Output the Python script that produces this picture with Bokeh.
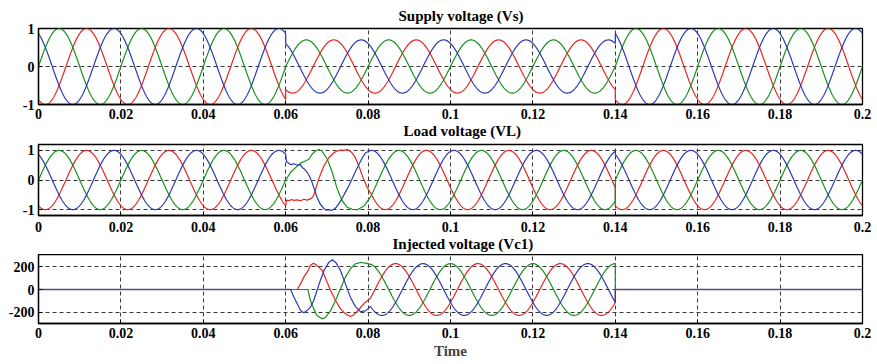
import numpy as np
from bokeh.plotting import figure
from bokeh.layouts import column
from bokeh.models import FixedTicker, Range1d, Title
from bokeh.embed import file_html
from bokeh.resources import INLINE

# ---------------- data ----------------
FREQ_HZ = 50.0
T_END = 0.2
SAG_START = 0.06
SAG_END = 0.14

phase_names = ["red", "green", "blue"]
phase_colors = ["#e8231f", "#16901a", "#2a39b2"]
phase_offset_deg = [-120.0, 0.0, 120.0]

# supply voltage (pu): amplitude per segment
supply_seg_edges = [0.0, 0.06, 0.14, 0.2]
supply_seg_amp = [1.0, 0.7, 1.0]

# load voltage (pu): phase lag while compensated
load_comp_lag_deg = 45.0
load_transient_end = 0.0806
load_tr_t_red = [0.0600, 0.0602, 0.0608, 0.0614, 0.0620, 0.0628, 0.0636, 0.0644, 0.0652, 0.0660,
                 0.0664, 0.0668, 0.0674, 0.0680, 0.0687, 0.0693, 0.0705, 0.0717, 0.0725, 0.0733,
                 0.0741, 0.0749, 0.0755, 0.0761, 0.0768, 0.0774, 0.0780, 0.0786, 0.0792, 0.0798, 0.0806]
load_tr_v_red = [-0.87, -0.68, -0.70, -0.66, -0.69, -0.67, -0.70, -0.65, -0.68, -0.64,
                 -0.60, -0.52, -0.25, 0.03, 0.28, 0.48, 0.76, 0.92, 0.98, 1.01,
                 1.00, 1.03, 0.99, 0.92, 0.78, 0.59, 0.38, 0.14, -0.06, -0.26, -0.44]
load_tr_t_green = [0.0600, 0.0612, 0.0624, 0.0636, 0.0648, 0.0656, 0.0664, 0.0672, 0.0680, 0.0688,
                   0.0701, 0.0713, 0.0725, 0.0737, 0.0749, 0.0762, 0.0775, 0.0790, 0.0806]
load_tr_v_green = [0.0, 0.26, 0.42, 0.57, 0.64, 0.70, 0.87, 0.98, 1.03, 0.98,
                   0.70, 0.26, -0.30, -0.70, -0.92, -0.99, -1.00, -0.88, -0.56]
load_tr_t_blue = [0.0600, 0.0602, 0.0606, 0.0612, 0.0620, 0.0628, 0.0636, 0.0640, 0.0646, 0.0652,
                  0.0658, 0.0664, 0.0670, 0.0676, 0.0684, 0.0693, 0.0699, 0.0705, 0.0711, 0.0717,
                  0.0723, 0.0729, 0.0737, 0.0745, 0.0753, 0.0761, 0.0769, 0.0778, 0.0786, 0.0794, 0.0806]
load_tr_v_blue = [0.87, 0.62, 0.58, 0.52, 0.55, 0.50, 0.52, 0.42, 0.36, 0.26,
                  0.12, -0.08, -0.33, -0.58, -0.82, -0.97, -1.02, -1.00, -1.03, -0.99,
                  -0.92, -0.80, -0.62, -0.41, -0.20, 0.03, 0.28, 0.53, 0.75, 0.92, 1.00]

# injected voltage (V)
inj_amp = 230.0
inj_transient_end = 0.0806
inj_tr_t_red = [0.0000, 0.0628, 0.0636, 0.0644, 0.0652, 0.0660, 0.0667, 0.0672, 0.0680, 0.0689,
                0.0697, 0.0709, 0.0721, 0.0733, 0.0745, 0.0757, 0.0765, 0.0777, 0.0790, 0.0806]
inj_tr_v_red = [0, 0, 50, 110, 154, 213, 234, 225, 199, 169,
                95, -9, -98, -172, -216, -240, -226, -180, -125, -75]
inj_tr_t_green = [0.0000, 0.0654, 0.0660, 0.0668, 0.0676, 0.0689, 0.0697, 0.0709, 0.0721, 0.0733,
                  0.0745, 0.0757, 0.0769, 0.0781, 0.0794, 0.0806]
inj_tr_v_green = [0, 0, -98, -172, -231, -261, -246, -187, -98, 6,
                  110, 184, 228, 240, 234, 224]
inj_tr_t_blue = [0.0000, 0.0612, 0.0620, 0.0628, 0.0636, 0.0644, 0.0652, 0.0660, 0.0668, 0.0676,
                 0.0684, 0.0693, 0.0705, 0.0713, 0.0721, 0.0733, 0.0745, 0.0757, 0.0769, 0.0781,
                 0.0794, 0.0806]
inj_tr_v_blue = [0, 0, -68, -127, -187, -207, -187, -157, -98, -9,
                 80, 169, 243, 264, 243, 169, 50, -68, -150, -196,
                 -190, -150]
inj_zero_color = "#5b4a82"

# axes
x_ticks = [0, 0.02, 0.04, 0.06, 0.08, 0.1, 0.12, 0.14, 0.16, 0.18, 0.2]
x_tick_labels = ["0", "0.02", "0.04", "0.06", "0.08", "0.1", "0.12", "0.14", "0.16", "0.18", "0.2"]
titles = ["Supply voltage (Vs)", "Load voltage (VL)", "Injected voltage (Vc1)"]
y_ticks = [[-1, 0, 1], [-1, 0, 1], [-200, 0, 200]]
y_tick_labels = [["-1", "0", "1"], ["-1", "0", "1"], ["-200", "0", "200"]]
y_ranges = [(-1.0, 1.0), (-1.2, 1.2), (-302.0, 311.0)]
x_axis_label = "Time"

DT = 0.0001
W = 2 * np.pi * FREQ_HZ


def seg_time(t0, t1):
    n = int(round((t1 - t0) / DT)) + 1
    return np.linspace(t0, t1, n)


def sin_wave(t, amp, ph_deg, lag_deg=0.0):
    return amp * np.sin(W * t + np.deg2rad(ph_deg - lag_deg))


def cos_wave(t, amp, ph_deg):
    return amp * np.cos(W * t + np.deg2rad(ph_deg))


# supply series
supply = []
for k in range(3):
    xs, ys = [], []
    for s in range(len(supply_seg_amp)):
        t = seg_time(supply_seg_edges[s], supply_seg_edges[s + 1])
        xs.append(t)
        ys.append(sin_wave(t, supply_seg_amp[s], phase_offset_deg[k]))
    supply.append((np.concatenate(xs), np.concatenate(ys)))

# load series
load_tr = [(load_tr_t_red, load_tr_v_red), (load_tr_t_green, load_tr_v_green), (load_tr_t_blue, load_tr_v_blue)]
load = []
for k in range(3):
    t1 = seg_time(0.0, SAG_START)
    t3 = seg_time(load_transient_end, SAG_END)
    t4 = seg_time(SAG_END, T_END)
    xs = [t1, np.array(load_tr[k][0]), t3, t4]
    ys = [sin_wave(t1, 1.0, phase_offset_deg[k]), np.array(load_tr[k][1]),
          sin_wave(t3, 1.0, phase_offset_deg[k], load_comp_lag_deg),
          sin_wave(t4, 1.0, phase_offset_deg[k])]
    load.append((np.concatenate(xs), np.concatenate(ys)))

# injected series
inj_tr = [(inj_tr_t_red, inj_tr_v_red), (inj_tr_t_green, inj_tr_v_green), (inj_tr_t_blue, inj_tr_v_blue)]
inj = []
for k in range(3):
    t3 = seg_time(inj_transient_end, SAG_END)
    xs = [np.array(inj_tr[k][0], dtype=float), t3, np.array([SAG_END, T_END])]
    ys = [np.array(inj_tr[k][1], dtype=float), cos_wave(t3, inj_amp, phase_offset_deg[k]), np.array([0.0, 0.0])]
    inj.append((np.concatenate(xs), np.concatenate(ys)))
inj_zero_start = min(inj_tr_t_red[1], inj_tr_t_green[1], inj_tr_t_blue[1])

FONT = "Liberation Serif"
TITLE_OFFSETS = [360, 365, 354]   # px from the left edge of the frame


def make_title(idx, standoff, valign):
    return Title(text=titles[idx], align="left", offset=TITLE_OFFSETS[idx], standoff=standoff,
                 vertical_align=valign, text_font=FONT, text_font_style="bold",
                 text_font_size="15px", text_color="black")


def make_fig(idx, height, top, bottom, x_standoff):
    p = figure(width=877, height=height, x_range=Range1d(0, T_END), y_range=Range1d(*y_ranges[idx]),
               output_backend="svg", toolbar_location=None, title=None,
               min_border_left=38, min_border_right=15, min_border_top=top, min_border_bottom=bottom)
    p.outline_line_color = "black"
    p.outline_line_width = 1.3
    p.background_fill_color = "white"
    p.border_fill_color = "white"
    p.xaxis.ticker = FixedTicker(ticks=x_ticks)
    p.xaxis.major_label_overrides = {t: l for t, l in zip(x_ticks, x_tick_labels)}
    p.yaxis.ticker = FixedTicker(ticks=y_ticks[idx])
    p.yaxis.major_label_overrides = {t: l for t, l in zip(y_ticks[idx], y_tick_labels[idx])}
    for ax in (p.xaxis, p.yaxis):
        ax.axis_line_color = "black"
        ax.axis_line_width = 1.3
        ax.major_tick_in = 4
        ax.major_tick_out = 0
        ax.minor_tick_line_color = None
        ax.major_tick_line_color = "black"
        ax.major_label_text_font = FONT
        ax.major_label_text_font_style = "bold"
        ax.major_label_text_font_size = "14px"
        ax.major_label_text_color = "black"
        ax.major_label_standoff = 4
    p.xaxis.major_label_standoff = x_standoff
    for g in (p.xgrid, p.ygrid):
        g.grid_line_color = "#3a3a3a"
        g.grid_line_dash = "4 3"
        g.grid_line_width = 1
    return p


# figure 1 carries its own title above and the title of figure 2 below its axis;
# figure 2 carries the title of figure 3 below its axis.
p1 = make_fig(0, 141, 28, 37, 4)
p1.add_layout(make_title(0, 9, "bottom"), "above")
p1.add_layout(make_title(1, 0, "middle"), "below")
p2 = make_fig(1, 113, 3, 39, 6)
p2.add_layout(make_title(2, 0, "middle"), "below")
p3 = make_fig(2, 110, 0, 41, 4)
p3.xaxis.axis_label = x_axis_label
p3.xaxis.axis_label_text_font = FONT
p3.xaxis.axis_label_text_font_style = "bold"
p3.xaxis.axis_label_text_font_size = "15px"
p3.xaxis.axis_label_standoff = 2

for p, series in ((p1, supply), (p2, load)):
    for k in range(3):
        p.line(series[k][0], series[k][1], line_color=phase_colors[k], line_width=1.2)

for k in range(3):
    p3.line(inj[k][0], inj[k][1], line_color=phase_colors[k], line_width=1.2)
p3.line([0.0, inj_zero_start], [0.0, 0.0], line_color=inj_zero_color, line_width=1.6)
p3.line([SAG_END, T_END], [0.0, 0.0], line_color=inj_zero_color, line_width=1.6)

layout = column(p1, p2, p3, spacing=0)
open("out.html", "w").write(file_html(layout, INLINE))
